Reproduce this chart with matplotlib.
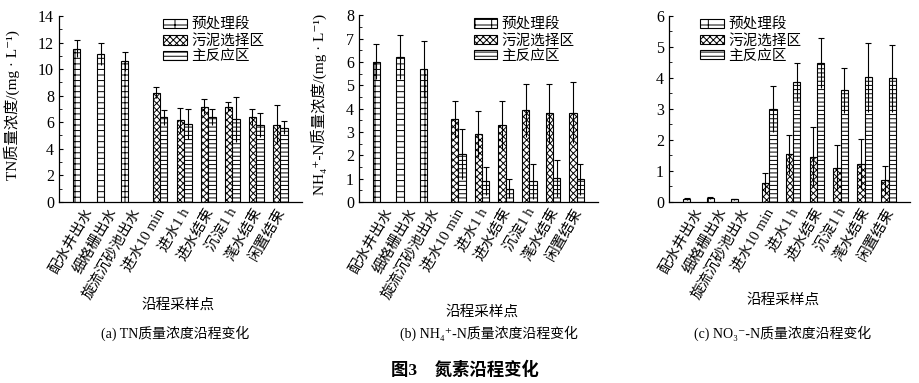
import matplotlib

matplotlib.use("Agg")
import matplotlib.pyplot as plt  # noqa: E402
import numpy as np  # noqa: E402
from matplotlib.patches import Patch  # noqa: E402
from matplotlib.ticker import MultipleLocator  # noqa: E402

plt.rcParams["font.family"] = ["Liberation Serif", "Noto Sans CJK SC", "DejaVu Serif"]
plt.rcParams["font.size"] = 10
plt.rcParams["hatch.linewidth"] = 0.7

sites = ["配水井出水", "细格栅出水", "旋流沉砂池出水", "进水10 min", "进水1 h",
         "进水结束", "沉淀1 h", "滗水结束", "闲置结束"]
series = ["预处理段", "污泥选择区", "主反应区"]

# 预处理段 -> 前3个点；污泥选择区/主反应区 -> 后6个点
tn_pre = [11.54, 11.16, 10.59]
tn_pre_err = [0.65, 0.84, 0.72]
tn_sel = [8.23, 6.15, 7.18, 7.18, 6.37, 5.82]
tn_sel_err = [0.43, 0.92, 0.55, 0.35, 0.60, 1.46]
tn_main = [6.37, 5.90, 6.37, 6.22, 5.82, 5.60]
tn_main_err = [0.58, 1.13, 0.60, 1.68, 0.90, 0.50]

nh_pre = [6.01, 6.21, 5.69]
nh_pre_err = [0.76, 0.96, 1.19]
nh_sel = [3.54, 2.91, 3.31, 3.93, 3.79, 3.83]
nh_sel_err = [0.80, 1.00, 1.03, 1.13, 1.27, 1.31]
nh_main = [2.07, 0.91, 0.57, 0.89, 1.01, 0.96]
nh_main_err = [1.07, 0.60, 0.42, 0.75, 0.79, 0.68]

no_pre = [0.09, 0.13, 0.08]
no_pre_err = [0.02, 0.03, 0.02]
no_sel = [0.62, 1.53, 1.46, 1.10, 1.22, 0.69]
no_sel_err = [0.32, 0.63, 0.96, 0.73, 0.82, 0.46]
no_main = [3.00, 3.86, 4.48, 3.59, 4.01, 3.98]
no_main_err = [0.74, 0.60, 0.81, 0.73, 1.12, 1.07]

hatches = ["---|", "xxxxx", "----"]
W = 0.31


def _bars(ax, xs, vals, errs, hatch):
    ax.bar(xs, vals, W, color="white", edgecolor="black", hatch=hatch, lw=0.8, zorder=2)
    z = np.zeros(len(vals))
    ax.errorbar(xs, vals, yerr=[z, errs], fmt="none", ecolor="black",
                elinewidth=0.8, capsize=2, capthick=0.8, zorder=3)
    ax.errorbar(xs, vals, yerr=[errs, z], fmt="none", ecolor="black",
                elinewidth=0.8, capsize=0, zorder=3)


def panel(ax, pre, pre_err, sel, sel_err, main, main_err, ymax, ymajor, yminor,
          legend_x):
    x = np.arange(len(sites))
    _bars(ax, x[:3] - W, pre, pre_err, hatches[0])
    _bars(ax, x[3:], sel, sel_err, hatches[1])
    _bars(ax, x[3:] + W, main, main_err, hatches[2])
    ax.set_xlim(-1.05, 9.05)
    ax.set_ylim(0, ymax)
    ax.yaxis.set_major_locator(MultipleLocator(ymajor))
    ax.yaxis.set_minor_locator(MultipleLocator(yminor))
    ax.set_xticks(x)
    ax.set_xticklabels(sites, rotation=60, ha="right", rotation_mode="anchor",
                       fontsize=10.5)
    ax.tick_params(axis="x", length=0, pad=3)
    ax.tick_params(axis="y", which="major", direction="in", length=3, width=0.8,
                   labelsize=11.5)
    ax.tick_params(axis="y", which="minor", direction="in", length=2, width=0.6)
    for s in ("top", "right"):
        ax.spines[s].set_visible(False)
    for s in ("left", "bottom"):
        ax.spines[s].set_linewidth(0.9)
    handles = [Patch(facecolor="white", edgecolor="black", hatch=h, lw=0.8) for h in hatches]
    ax.legend(handles, series, loc="upper left", bbox_to_anchor=(legend_x, 1.03),
              frameon=False, borderpad=0, handlelength=1.6, handleheight=0.6,
              handletextpad=0.3, labelspacing=0.15, fontsize=10.5)


fig = plt.figure(figsize=(9.2, 3.83), dpi=100)
ax1 = fig.add_axes([0.064, 0.473, 0.264, 0.485])
ax2 = fig.add_axes([0.390, 0.473, 0.260, 0.487])
ax3 = fig.add_axes([0.727, 0.473, 0.262, 0.486])

panel(ax1, tn_pre, tn_pre_err, tn_sel, tn_sel_err, tn_main, tn_main_err, 14, 2, 1, 0.40)
panel(ax2, nh_pre, nh_pre_err, nh_sel, nh_sel_err, nh_main, nh_main_err, 8, 1, 0.5, 0.45)
panel(ax3, no_pre, no_pre_err, no_sel, no_sel_err, no_main, no_main_err, 6, 1, 0.5, 0.10)

ax1.set_ylabel("TN质量浓度/(mg · L⁻¹)", fontsize=11)
ax1.yaxis.set_label_coords(-0.16, 0.52)
ax2.set_ylabel("NH₄⁺-N质量浓度/(mg · L⁻¹)", fontsize=11)
ax2.yaxis.set_label_coords(-0.135, 0.52)

for xc, yc in [(178, 305), (482, 312), (783, 300)]:
    fig.text(xc / 920, 1 - yc / 383, "沿程采样点", ha="center", va="center", fontsize=10.5)

captions = ["(a) TN质量浓度沿程变化", "(b) NH₄⁺-N质量浓度沿程变化", "(c) NO₃⁻-N质量浓度沿程变化"]
for xc, cap in zip([175, 489, 783], captions):
    fig.text(xc / 920, 1 - 333 / 383, cap, ha="center", va="center", fontsize=10)

fig.text(465 / 920, 1 - 370 / 383, "图3    氮素沿程变化", ha="center", va="center",
         fontsize=12.5, fontweight="bold")

fig.savefig("out.png", dpi=100)
